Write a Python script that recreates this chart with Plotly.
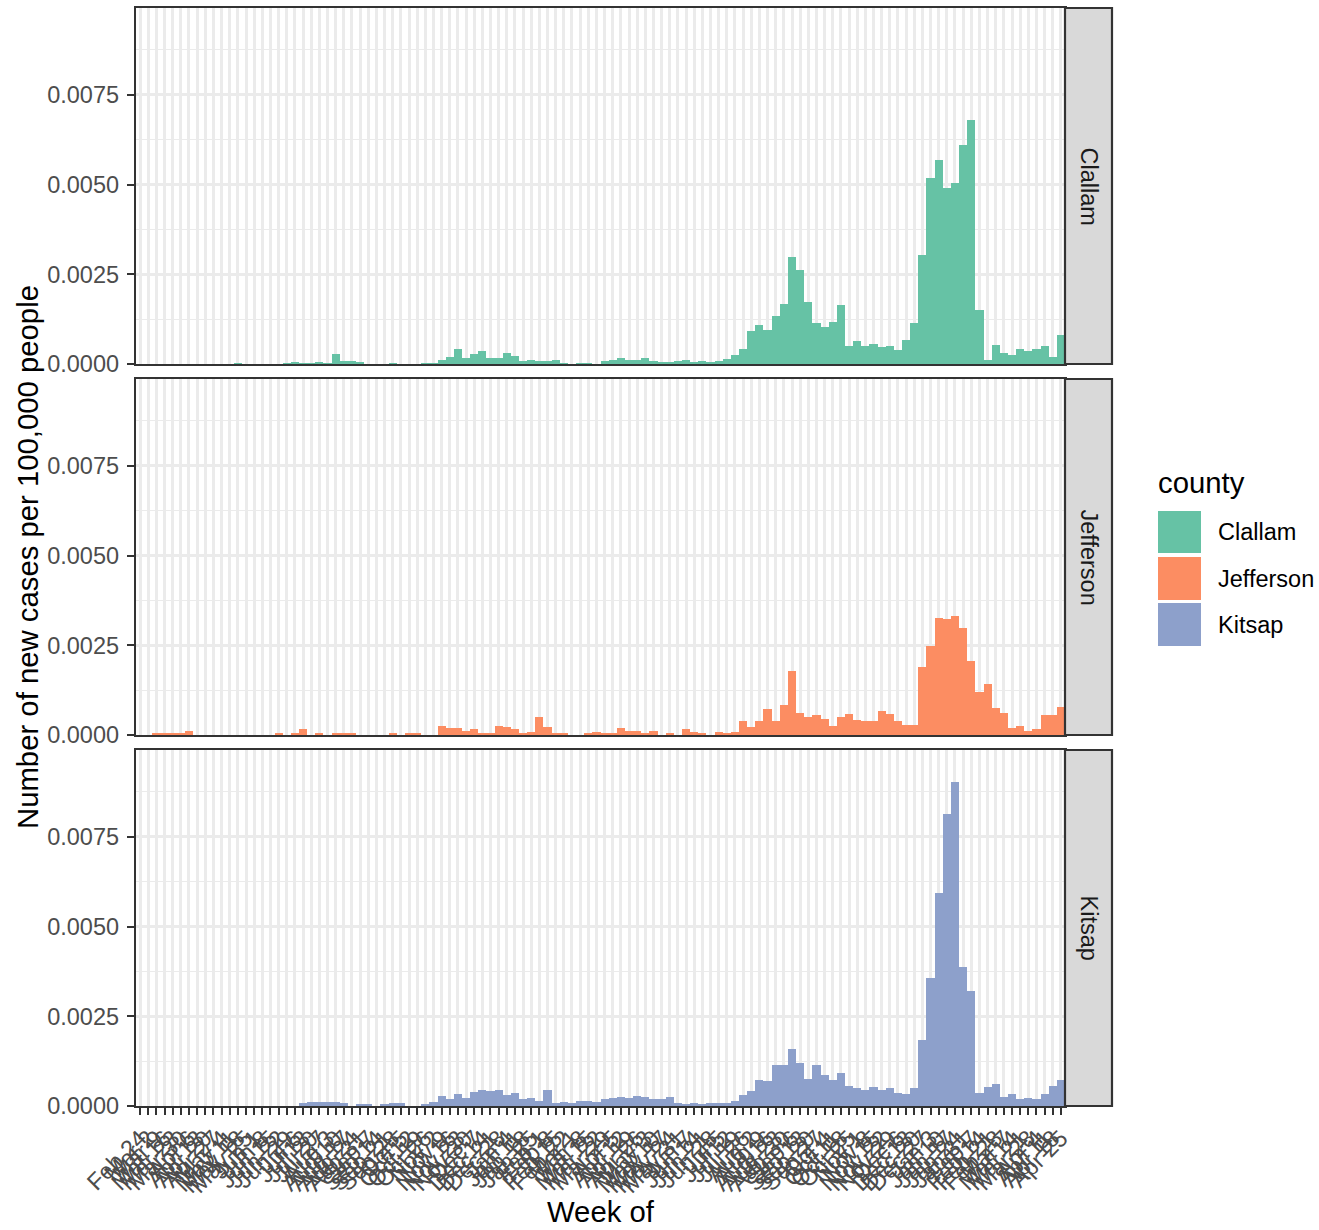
import plotly.graph_objects as go

# ---------------- data ----------------
weeks = [
    "Feb 24", "Mar 2", "Mar 9", "Mar 16", "Mar 23", "Mar 30", "Apr 6", "Apr 13", "Apr 20", "Apr 27",
    "May 4", "May 11", "May 18", "May 25", "Jun 1", "Jun 8", "Jun 15", "Jun 22", "Jun 29", "Jul 6",
    "Jul 13", "Jul 20", "Jul 27", "Aug 3", "Aug 10", "Aug 17", "Aug 24", "Aug 31", "Sep 7", "Sep 14",
    "Sep 21", "Sep 28", "Oct 5", "Oct 12", "Oct 19", "Oct 26", "Nov 2", "Nov 9", "Nov 16", "Nov 23",
    "Nov 30", "Dec 7", "Dec 14", "Dec 21", "Dec 28",
    "Jan 4", "Jan 11", "Jan 18", "Jan 25", "Feb 1", "Feb 8", "Feb 15", "Feb 22", "Mar 1", "Mar 8",
    "Mar 15", "Mar 22", "Mar 29", "Apr 5", "Apr 12", "Apr 19", "Apr 26", "May 3", "May 10", "May 17",
    "May 24", "May 31", "Jun 7", "Jun 14", "Jun 21", "Jun 28", "Jul 5", "Jul 12", "Jul 19", "Jul 26",
    "Aug 2", "Aug 9", "Aug 16", "Aug 23", "Aug 30", "Sep 6", "Sep 13", "Sep 20", "Sep 27", "Oct 4",
    "Oct 11", "Oct 18", "Oct 25", "Nov 1", "Nov 8", "Nov 15", "Nov 22", "Nov 29", "Dec 6", "Dec 13",
    "Dec 20", "Dec 27",
    "Jan 3", "Jan 10", "Jan 17", "Jan 24", "Jan 31", "Feb 7", "Feb 14", "Feb 21", "Feb 28", "Mar 7",
    "Mar 14", "Mar 21", "Mar 28", "Apr 4", "Apr 11", "Apr 18", "Apr 25",
]

clallam = [
    0, 0, 0, 0, 0, 0, 0, 0, 0, 0,
    0, 0, 0.00002, 0, 0, 0, 0, 0, 0.00002, 0.00004,
    0.00002, 0.00002, 0.00004, 0.00002, 0.00029, 0.00009, 0.00009, 0.00004, 0, 0,
    0, 0.00002, 0, 0, 0, 0.00002, 0.00002, 0.00012, 0.0002, 0.00043,
    0.00018, 0.00029, 0.00037, 0.00018, 0.00018, 0.00032, 0.00023, 0.00009, 0.00012, 0.00009,
    0.00009, 0.00012, 0.00002, 0, 0.00002, 0.00002, 0, 0.00009, 0.00012, 0.00018,
    0.00012, 0.00012, 0.00018, 0.00009, 0.00006, 0.00006, 0.00009, 0.00012, 0.00006, 0.00009,
    0.00006, 0.00009, 0.00015, 0.00026, 0.00043, 0.00091, 0.00108, 0.00094, 0.00133, 0.00166,
    0.00298, 0.00262, 0.00172, 0.00113, 0.00102, 0.00116, 0.00164, 0.00051, 0.00063, 0.00049,
    0.00057, 0.00046, 0.00051, 0.0004, 0.00068, 0.00113, 0.00304, 0.00518, 0.00569, 0.0049,
    0.00505, 0.00611, 0.0068, 0.0015, 0.0001, 0.00054, 0.00032, 0.00026, 0.00043, 0.00035,
    0.00043, 0.00049, 0.0002, 0.0008,
]

jefferson = [
    0, 0, 0.00003, 0.00003, 0.00003, 0.00006, 0.00011, 0, 0, 0,
    0, 0, 0, 0, 0, 0, 0, 0.00003, 0, 0.00003,
    0.00017, 0, 0.00003, 0, 0.00003, 0.00003, 0.00003, 0, 0, 0,
    0, 0.00003, 0, 0.00006, 0.00003, 0, 0, 0.00025, 0.0002, 0.0002,
    0.00011, 0.00017, 0.00006, 0.00006, 0.00025, 0.00022, 0.00017, 0.00006, 0.00008, 0.0005,
    0.00022, 0.00003, 0.00003, 0, 0, 0.00006, 0.00008, 0.00006, 0.00006, 0.0002,
    0.00011, 0.00011, 0.00003, 0.00011, 0, 0.00003, 0, 0.00017, 0.00008, 0.00003,
    0, 0.00008, 0.00006, 0.00008, 0.00039, 0.00022, 0.00039, 0.00073, 0.00039, 0.00084,
    0.00177, 0.00062, 0.0005, 0.00056, 0.00045, 0.00025, 0.0005, 0.00059, 0.00042, 0.00039,
    0.00039, 0.00067, 0.00059, 0.00039, 0.00028, 0.00028, 0.00189, 0.00247, 0.00326, 0.00323,
    0.00331, 0.00298, 0.00205, 0.00119, 0.00141, 0.00074, 0.00062, 0.0002, 0.00025, 0.00011,
    0.00017, 0.00056, 0.00056, 0.00079,
]

kitsap = [
    0, 0, 0, 0, 0, 0, 0, 0, 0, 0,
    0, 0, 0, 0, 0, 0, 0, 0, 0, 0,
    0.00007, 0.0001, 0.0001, 0.0001, 0.0001, 0.00007, 0, 0.00005, 0.00005, 0,
    0.00005, 0.00007, 0.00007, 0, 0, 0.00005, 0.0001, 0.00027, 0.00019, 0.00033,
    0.00022, 0.00038, 0.00044, 0.00041, 0.00044, 0.0003, 0.00036, 0.00019, 0.00022, 0.00013,
    0.00044, 0.00007, 0.0001, 0.00007, 0.00013, 0.00013, 0.0001, 0.00019, 0.00022, 0.00024,
    0.00022, 0.00027, 0.00024, 0.00019, 0.00019, 0.00024, 0.00007, 0.00005, 0.00007, 0.00005,
    0.00007, 0.00007, 0.00007, 0.00013, 0.0003, 0.00041, 0.00072, 0.00069, 0.00114, 0.00114,
    0.00159, 0.0012, 0.00075, 0.00114, 0.00086, 0.00072, 0.00092, 0.00055, 0.0005, 0.00044,
    0.00052, 0.00044, 0.0005, 0.00036, 0.00033, 0.0005, 0.00184, 0.00357, 0.00594, 0.00814,
    0.00903, 0.00387, 0.0032, 0.00036, 0.00052, 0.00061, 0.00024, 0.00033, 0.00019, 0.00022,
    0.00019, 0.00033, 0.00055, 0.00072,
]

counties = ["Clallam", "Jefferson", "Kitsap"]
series = [clallam, jefferson, kitsap]
y_tick_values = [0, 0.0025, 0.005, 0.0075]
y_tick_labels = ["0.0000", "0.0025", "0.0050", "0.0075"]
y_minor_values = [0.00125, 0.00375, 0.00625, 0.00875]
y_top = 0.00992

assert len(weeks) == 114 and len(set(weeks)) == 114
assert all(len(s) == 114 for s in series)

# ---------------- styling ----------------
colors = ["#66C2A5", "#FC8D62", "#8DA0CB"]
W, H = 1319, 1230
FONT = "Liberation Sans, Arial, Helvetica, sans-serif"
GRID = "#EBEBEB"
DARK = "#333333"
TICKTXT = "#4D4D4D"

# layout positions in page pixels
panel_x = (136, 1065)
panel_y = [(8, 364), (379, 735), (750, 1106)]   # (top, bottom)
strip_x = (1065, 1112)


def fx(p):
    return p / W


def fy(p):
    return 1 - p / H


fig = go.Figure()
layout = dict(
    width=W, height=H,
    margin=dict(l=0, r=0, t=0, b=0),
    paper_bgcolor="white", plot_bgcolor="white",
    template="none",
    bargap=0,
    showlegend=False,
    font=dict(family=FONT, color="black"),
)

shapes = []
annotations = []

for k, (name, vals, col) in enumerate(zip(counties, series, colors)):
    suf = "" if k == 0 else str(k + 1)
    fig.add_trace(go.Bar(
        x=weeks, y=vals, name=name,
        marker=dict(color=col, line=dict(width=0)),
        xaxis="x" + suf, yaxis="y" + suf,
        showlegend=False,
    ))
    top, bot = panel_y[k]
    bottom_panel = (k == len(counties) - 1)
    layout["xaxis" + suf] = dict(
        domain=[fx(panel_x[0]), fx(panel_x[1])],
        anchor="y" + suf,
        type="category",
        categoryorder="array", categoryarray=weeks,
        range=[-0.5, len(weeks) - 0.5],
        tickmode="array", tickvals=weeks, ticktext=weeks,
        showgrid=True, gridcolor=GRID, gridwidth=2.6,
        showline=True, mirror=True, linecolor=DARK, linewidth=2.4,
        zeroline=False, automargin=False,
        ticks="outside" if bottom_panel else "",
        ticklen=7, tickwidth=2.4, tickcolor=DARK,
        showticklabels=bottom_panel,
        tickangle=-45,
        tickfont=dict(family=FONT, size=23.5, color=TICKTXT),
    )
    layout["yaxis" + suf] = dict(
        domain=[fy(bot), fy(top)],
        anchor="x" + suf,
        range=[0, y_top],
        tickmode="array", tickvals=y_tick_values, ticktext=y_tick_labels,
        showgrid=True, gridcolor=GRID, gridwidth=2.6,
        minor=dict(tickmode="array", tickvals=y_minor_values, showgrid=True,
                   gridcolor=GRID, gridwidth=1.3, ticks=""),
        showline=True, mirror=True, linecolor=DARK, linewidth=2.4,
        zeroline=False, automargin=False,
        ticks="outside", ticklen=7, tickwidth=2.4, tickcolor=DARK,
        tickfont=dict(family=FONT, size=23.5, color=TICKTXT),
        ticklabelstandoff=3,
    )
    # facet strip
    shapes.append(dict(
        type="rect", xref="paper", yref="paper",
        x0=fx(strip_x[0]), x1=fx(strip_x[1]), y0=fy(bot), y1=fy(top),
        fillcolor="#D9D9D9", line=dict(color=DARK, width=2.2), layer="above",
    ))
    annotations.append(dict(
        text=name, xref="paper", yref="paper",
        x=fx((strip_x[0] + strip_x[1]) / 2), y=fy((top + bot) / 2),
        textangle=90, showarrow=False, xanchor="center", yanchor="middle",
        font=dict(family=FONT, size=23.5, color="#1A1A1A"),
    ))

# axis titles
annotations.append(dict(
    text="Week of", xref="paper", yref="paper",
    x=fx((panel_x[0] + panel_x[1]) / 2), y=0,
    showarrow=False, xanchor="center", yanchor="bottom",
    font=dict(family=FONT, size=29.3, color="black"),
))
annotations.append(dict(
    text="Number of new cases per 100,000 people", xref="paper", yref="paper",
    x=fx(27), y=fy((panel_y[0][0] + panel_y[-1][1]) / 2),
    textangle=-90, showarrow=False, xanchor="center", yanchor="middle",
    font=dict(family=FONT, size=29.3, color="black"),
))

# legend (title, keys, labels)
annotations.append(dict(
    text="county", xref="paper", yref="paper",
    x=fx(1156), y=fy(482), showarrow=False, xanchor="left", yanchor="middle",
    font=dict(family=FONT, size=29.3, color="black"),
))
key_rows = [(511, 553), (557, 600), (603, 646)]
for (t, b), name, col in zip(key_rows, counties, colors):
    shapes.append(dict(
        type="rect", xref="paper", yref="paper",
        x0=fx(1158), x1=fx(1201), y0=fy(b), y1=fy(t),
        fillcolor=col, line=dict(width=0),
    ))
    annotations.append(dict(
        text=name, xref="paper", yref="paper",
        x=fx(1216), y=fy((t + b) / 2), showarrow=False,
        xanchor="left", yanchor="middle",
        font=dict(family=FONT, size=23.5, color="black"),
    ))

layout["shapes"] = shapes
layout["annotations"] = annotations
fig.update_layout(**layout)

# remove the browser's default page margin so the figure fills the window exactly
fig.write_html(
    "out.html",
    config={"displayModeBar": False},
    post_script="document.body.style.margin='0';document.body.style.overflow='hidden';",
)
